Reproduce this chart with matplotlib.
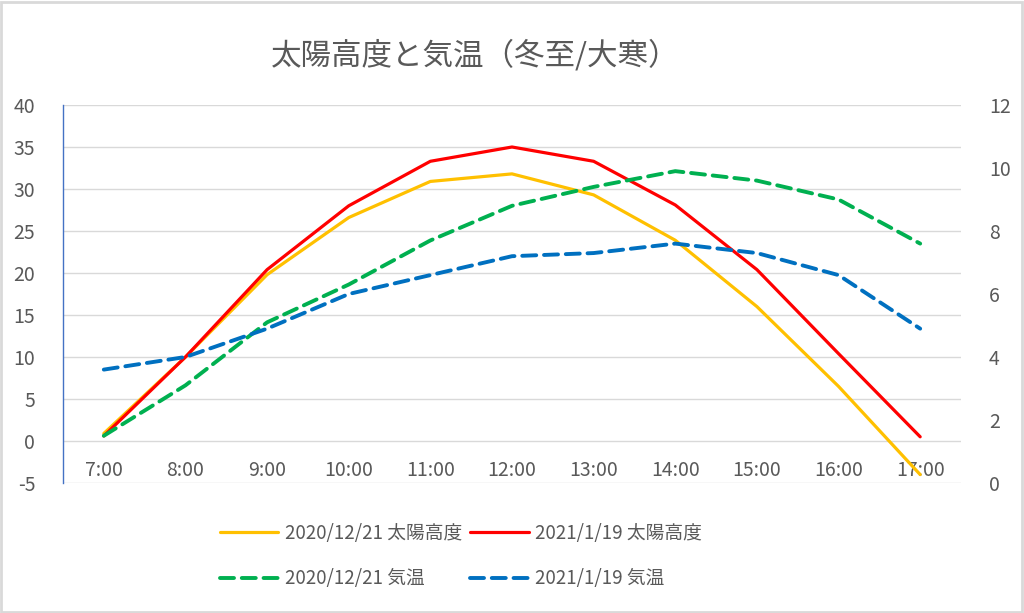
import matplotlib.pyplot as plt
import numpy as np

plt.rcParams['font.family'] = ['Noto Sans CJK JP', 'DejaVu Sans']
plt.rcParams['axes.unicode_minus'] = False

# categories
hours = ['7:00', '8:00', '9:00', '10:00', '11:00', '12:00',
         '13:00', '14:00', '15:00', '16:00', '17:00']

# sun altitude (left axis)
alt_1221 = [0.9, 10.0, 19.8, 26.6, 30.9, 31.8, 29.3, 23.9, 16.0, 6.5, -4.0]
alt_0119 = [0.6, 10.0, 20.4, 28.0, 33.3, 35.0, 33.3, 28.1, 20.4, 10.4, 0.5]

# temperature (right axis)
temp_1221 = [1.5, 3.1, 5.1, 6.3, 7.7, 8.8, 9.4, 9.9, 9.6, 9.0, 7.6]
temp_0119 = [3.6, 4.0, 4.9, 6.0, 6.6, 7.2, 7.3, 7.6, 7.3, 6.6, 4.9]

labels = ['2020/12/21 太陽高度', '2021/1/19 太陽高度',
          '2020/12/21 気温', '2021/1/19 気温']

text_col = '#595959'
grid_col = '#D9D9D9'

fig = plt.figure(figsize=(10.24, 6.13), dpi=100)
ax = fig.add_axes([63/1024, 1 - 483/613, (961-63)/1024, (483-105)/613])
ax2 = ax.twinx()

x = np.arange(len(hours))
l1, = ax.plot(x, alt_1221, color='#FFC000', lw=2.3, solid_capstyle='round')
l2, = ax.plot(x, alt_0119, color='#FF0000', lw=2.3, solid_capstyle='round')
l3, = ax2.plot(x, temp_1221, color='#00B050', lw=2.8, dashes=(3.6, 2.0),
               dash_capstyle='round')
l4, = ax2.plot(x, temp_0119, color='#0070C0', lw=2.8, dashes=(3.6, 2.0),
               dash_capstyle='round')

ax.set_xlim(-0.5, len(hours) - 0.5)
ax.set_ylim(-5, 40)
ax.set_yticks(np.arange(-5, 41, 5))
ax2.set_ylim(0, 12)
ax2.set_yticks(np.arange(0, 13, 2))

ax.grid(axis='y', color=grid_col, lw=1)
ax.set_axisbelow(True)

for a in (ax, ax2):
    for s in ('top', 'right', 'bottom', 'left'):
        a.spines[s].set_visible(False)
ax.spines['left'].set_visible(True)
ax.spines['left'].set_color('#4472C4')
ax.spines['left'].set_linewidth(1)

# category labels sit under the zero line
ax.spines['bottom'].set_position(('data', 0))
ax.set_xticks(x)
ax.set_xticklabels(hours)
ax.tick_params(axis='x', length=0, pad=14, labelsize=14, labelcolor=text_col)
ax.tick_params(axis='y', length=0, pad=20, labelsize=14, labelcolor=text_col)
ax2.tick_params(axis='y', length=0, pad=20, labelsize=14, labelcolor=text_col)

fig.text(475/1024, 1 - 56/613, '太陽高度と気温（冬至/大寒）', ha='center',
         va='center', fontsize=22, color=text_col)

# legend filled column by column, so order handles for row-wise reading
leg = fig.legend([l1, l3, l2, l4], [labels[0], labels[2], labels[1], labels[3]],
                 loc='center', bbox_to_anchor=(461/1024, 1 - 556/613), ncol=2,
                 frameon=False, fontsize=13.5, labelcolor=text_col,
                 handlelength=3.1, handletextpad=0.35, columnspacing=0.45,
                 labelspacing=1.3)

# light chart border
fig.patches.append(plt.Rectangle((0.001, 0.0015), 0.997, 0.996,
                                 transform=fig.transFigure, fill=False,
                                 edgecolor=grid_col, lw=2))

fig.savefig('out.png', dpi=100)
